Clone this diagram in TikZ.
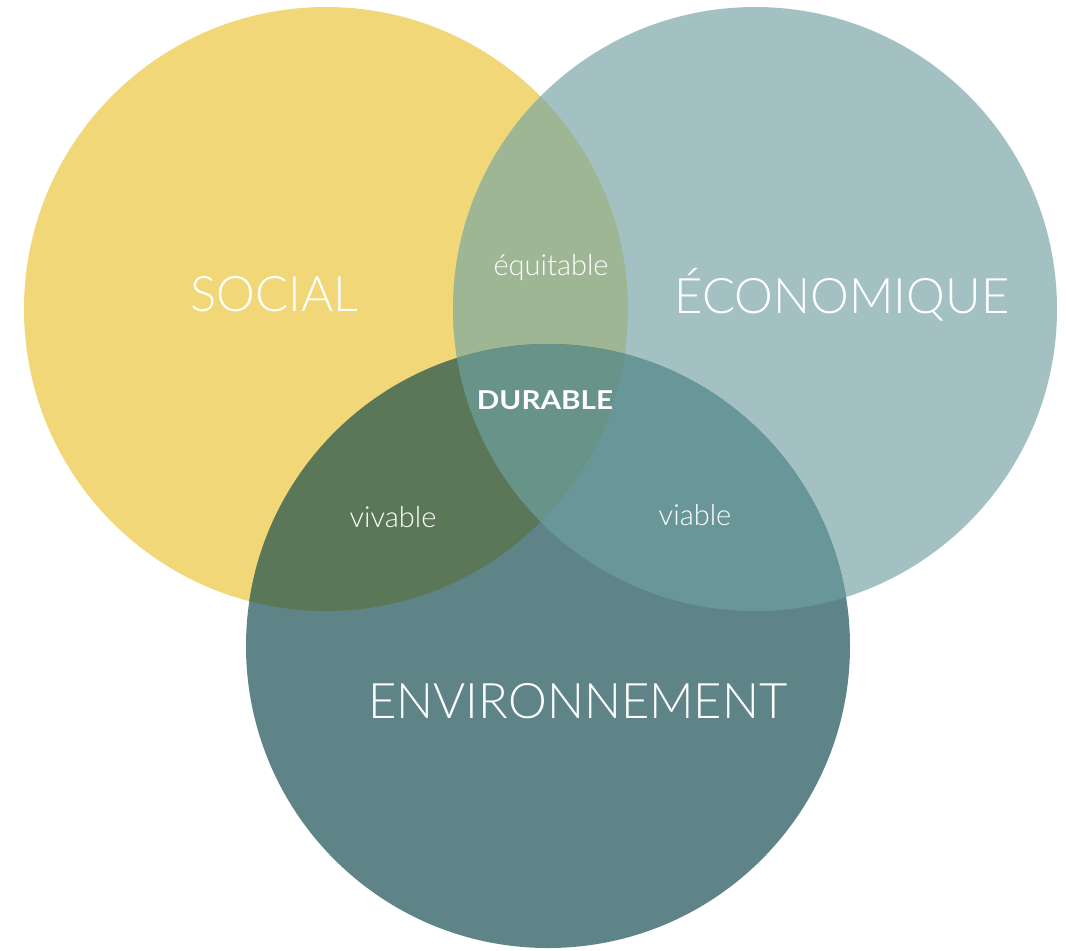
\documentclass[tikz,border=0pt]{standalone}
\usepackage{fontspec}
\setmainfont{Lato Light}[BoldFont=Lato Bold, BoldFeatures={FakeStretch=1.14}]
\usepackage{xcolor}
\definecolor{socialyellow}{HTML}{F1D777}
\definecolor{ecoblue}{HTML}{A3C1C3}
\definecolor{envteal}{HTML}{5F8487}
\definecolor{equitgreen}{HTML}{9FB694}
\definecolor{vivgreen}{HTML}{5A7757}
\definecolor{viabteal}{HTML}{699799}
\definecolor{durteal}{HTML}{689388}

\begin{document}
\begin{tikzpicture}[
    x=0.5pt, y=-0.5pt,
    bigword/.style={text=white, anchor=base, inner sep=0pt, font=\fontsize{24.5}{30}\selectfont},
    smallword/.style={text=white, anchor=base, inner sep=0pt, font=\fontsize{14.5}{17}\selectfont},
    core/.style={text=white, anchor=base, inner sep=0pt, font=\bfseries\fontsize{13}{15}\selectfont}
]
\useasboundingbox (0,0) rectangle (1066,950);

% ---- Circles ----
\fill[socialyellow] (326,309) circle (302);
\fill[ecoblue] (755,309) circle (302);
\fill[envteal] (548,646) circle (302);

% ---- Overlaps ----
\begin{scope}
    \clip (755,309) circle (302);
    \fill[viabteal] (548,646) circle (302);
\end{scope}
\begin{scope}
    \clip (326,309) circle (302);
    \fill[equitgreen] (755,309) circle (302);
    \fill[vivgreen] (548,646) circle (302);
    \clip (755,309) circle (302);
    \fill[durteal] (548,646) circle (302);
\end{scope}

% ---- Labels ----
\node[bigword] (social) at (274,311) {SOCIAL};
\node[bigword] (eco) at (842,313) {ÉCONOMIQUE};
\node[bigword] (env) at (578,718) {ENVIRONNEMENT};
\node[smallword] (equit) at (551,275) {équitable};
\node[smallword] (viv) at (393,527) {vivable};
\node[smallword] (viab) at (695,525) {viable};
\node[core] (durable) at (545,409) {DURABLE};

\end{tikzpicture}
\end{document}
